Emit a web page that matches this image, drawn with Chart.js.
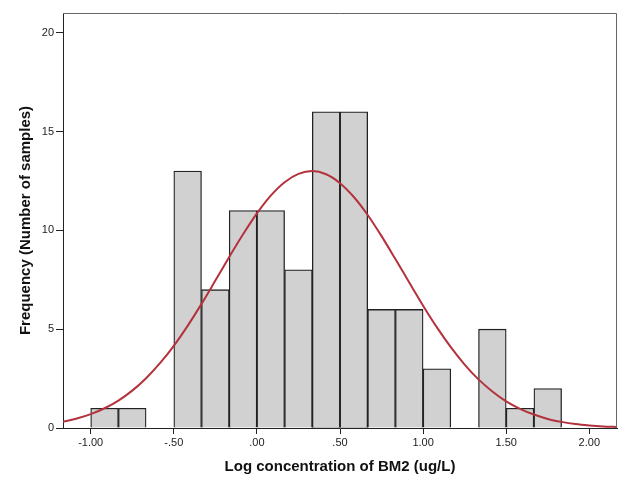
<!DOCTYPE html>
<html>
<head>
<meta charset="utf-8">
<script src="https://cdn.jsdelivr.net/npm/chart.js@4"></script>
<style>
  body { margin: 0; background: #fff; }
</style>
</head>
<body>
<canvas id="myChart" width="633" height="494"></canvas>
<script>
// histogram bins (width 1/6), centers and counts
const binCenters = [-0.9167, -0.75, -0.5833, -0.4167, -0.25, -0.0833, 0.0833, 0.25, 0.4167,
  0.5833, 0.75, 0.9167, 1.0833, 1.25, 1.4167, 1.5833, 1.75];
const counts = [1, 1, 0, 13, 7, 11, 11, 8, 16, 16, 6, 6, 3, 0, 5, 1, 2];

// normal curve
const curveX = [-1.1667, -1.0833, -1.0, -0.9167, -0.8333, -0.75, -0.6667, -0.5833, -0.5, -0.4167,
  -0.3333, -0.25, -0.1667, -0.0833, 0.0, 0.0833, 0.1667, 0.25, 0.3333, 0.4167,
  0.5, 0.5833, 0.6667, 0.75, 0.8333, 0.9167, 1.0, 1.0833, 1.1667, 1.25,
  1.3333, 1.4167, 1.5, 1.5833, 1.6667, 1.75, 1.8333, 1.9167, 2.0, 2.0833, 2.1667];
const curveY = [0.32, 0.48, 0.70, 1.00, 1.39, 1.89, 2.52, 3.28, 4.16, 5.17,
  6.28, 7.46, 8.65, 9.80, 10.86, 11.76, 12.44, 12.86, 13.00, 12.84,
  12.39, 11.69, 10.78, 9.71, 8.55, 7.36, 6.19, 5.09, 4.09, 3.21,
  2.46, 1.85, 1.35, 0.97, 0.68, 0.46, 0.31, 0.20, 0.13, 0.08, 0.05];

const xTicks = [-1.0, -0.5, 0.0, 0.5, 1.0, 1.5, 2.0];
const yTicks = [0, 5, 10, 15, 20];

function fmtX(v) {
  return v.toFixed(2).replace(/^(-?)0\./, "$1.");
}

// box around the plot area
const frame = {
  id: "frame",
  afterDraw(chart) {
    const a = chart.chartArea;
    const ctx = chart.ctx;
    ctx.save();
    ctx.strokeStyle = "#666";
    ctx.lineWidth = 1;
    ctx.beginPath();
    ctx.moveTo(a.left, a.top + 0.5);
    ctx.lineTo(a.right - 0.5, a.top + 0.5);
    ctx.lineTo(a.right - 0.5, a.bottom);
    ctx.stroke();
    ctx.restore();
  },
};

const data = {
  datasets: [
    {
      type: "line",
      data: curveX.map((x, i) => ({ x: x, y: curveY[i] })),
      borderColor: "#b3323c",
      borderWidth: 2,
      pointRadius: 0,
      cubicInterpolationMode: "monotone",
      order: 0,
    },
    {
      type: "bar",
      data: binCenters.map((x, i) => ({ x: x, y: counts[i] })),
      backgroundColor: "#d1d1d1",
      borderColor: "#222",
      borderWidth: 1.3,
      borderSkipped: "bottom",
      barPercentage: 1,
      categoryPercentage: 1,
      order: 1,
    },
  ],
};

const config = {
  data: data,
  options: {
    responsive: false,
    animation: false,
    layout: { padding: { left: 17, right: 16, top: 13, bottom: 18 } },
    plugins: {
      legend: { display: false },
      tooltip: { enabled: false },
    },
    scales: {
      x: {
        type: "linear",
        min: -1.1667,
        max: 2.1667,
        offset: false,
        afterBuildTicks: (s) => { s.ticks = xTicks.map((v) => ({ value: v })); },
        afterFit: (s) => { s.height = 48; },
        ticks: {
          callback: (v) => fmtX(v),
          color: "#222",
          font: { family: "Liberation Sans, Arial", size: 11 },
          padding: 2,
          maxRotation: 0,
          autoSkip: false,
        },
        grid: { offset: false, drawOnChartArea: false, drawTicks: true, tickLength: 6, color: "#222" },
        border: { display: true, color: "#222" },
        title: {
          display: true,
          text: "Log concentration of BM2 (ug/L)",
          color: "#111",
          padding: 0,
          font: { family: "Liberation Sans, Arial", size: 15, weight: "bold" },
        },
      },
      y: {
        type: "linear",
        min: 0,
        max: 21,
        afterBuildTicks: (s) => { s.ticks = yTicks.map((v) => ({ value: v })); },
        afterFit: (s) => { s.width = 46; },
        ticks: {
          color: "#222",
          font: { family: "Liberation Sans, Arial", size: 11 },
          padding: 2,
        },
        grid: { drawOnChartArea: false, drawTicks: true, tickLength: 7, color: "#222" },
        border: { display: true, color: "#222" },
        title: {
          display: true,
          text: "Frequency (Number of samples)",
          color: "#111",
          padding: 0,
          font: { family: "Liberation Sans, Arial", size: 15, weight: "bold" },
        },
      },
    },
  },
  plugins: [frame],
};

const myChart = new Chart(document.getElementById("myChart"), config);
</script>
</body>
</html>
